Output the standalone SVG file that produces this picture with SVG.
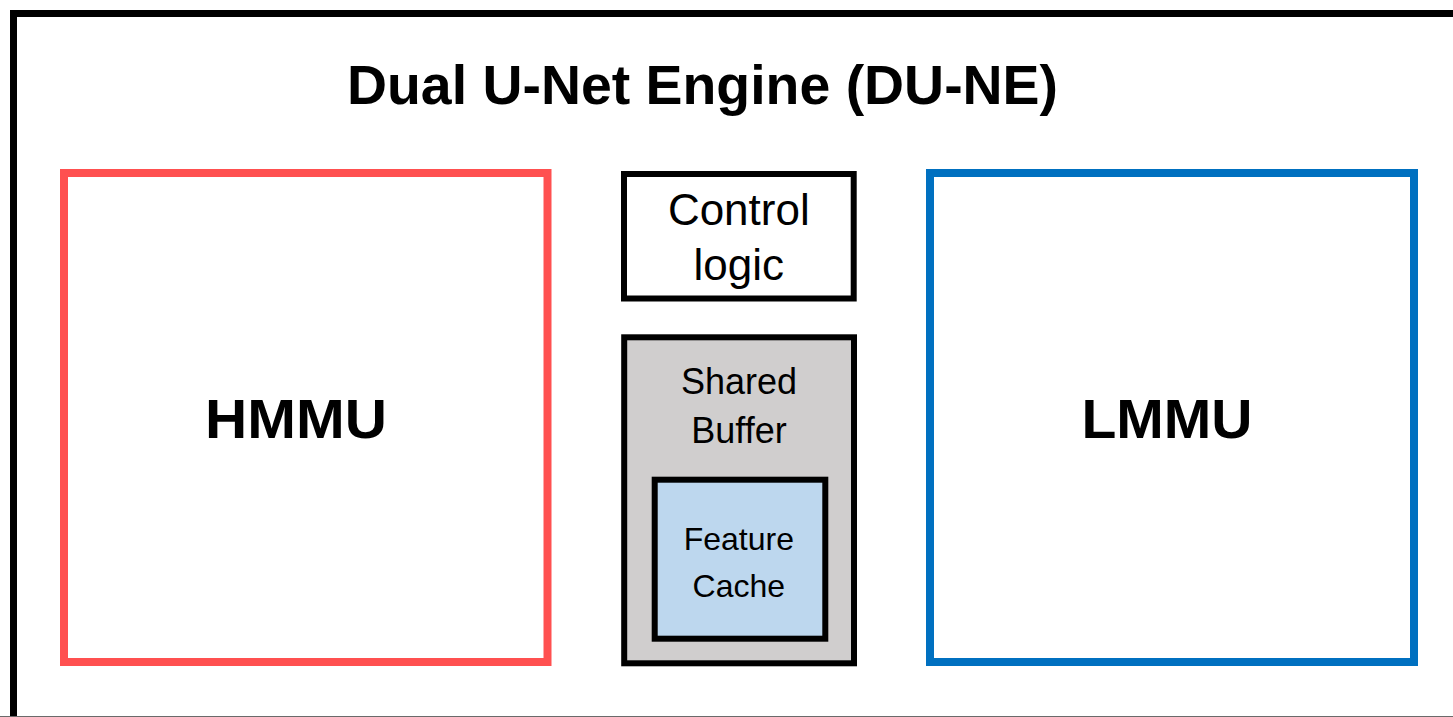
<svg xmlns="http://www.w3.org/2000/svg" width="1453" height="717" viewBox="0 0 1453 717">
  <style>
    .frame { fill: none; stroke: #000; stroke-width: 7; }
    .box { stroke: #000; stroke-width: 6; }
    .unit { fill: #fff; stroke-width: 8; }
    text { font-family: "Liberation Sans", Arial, sans-serif; fill: #000; text-anchor: middle; }
    .bold { font-weight: bold; }
  </style>
  <rect width="1453" height="717" fill="#fff"/>

  <!-- engine outline (continues past the right and bottom edges) -->
  <g id="engine">
    <path class="frame" d="M13.5 730 V13.5 H1460"/>
    <line x1="0" y1="716.5" x2="1453" y2="716.5" stroke="#6a6a6a" stroke-width="1"/>
    <text class="bold" x="702.5" y="104" font-size="56" textLength="711" lengthAdjust="spacingAndGlyphs">Dual U-Net Engine (DU-NE)</text>
  </g>

  <g id="hmmu">
    <rect class="unit" x="64" y="173" width="483.5" height="489" stroke="#ff5050"/>
    <text class="bold" x="296" y="438" font-size="55" textLength="182" lengthAdjust="spacingAndGlyphs">HMMU</text>
  </g>

  <g id="control-logic">
    <rect class="box" x="624" y="174" width="229.7" height="124.5" fill="#fff" stroke-width="5.5"/>
    <text x="738.8" y="225" font-size="44">Control</text>
    <text x="738.8" y="280" font-size="44">logic</text>
  </g>

  <g id="shared-buffer">
    <rect class="box" x="624.2" y="337.3" width="229.8" height="326" fill="#d0cece"/>
    <text x="739" y="394" font-size="36">Shared</text>
    <text x="739" y="443" font-size="36">Buffer</text>
  </g>

  <g id="feature-cache">
    <rect class="box" x="654.7" y="479.7" width="170.6" height="159" fill="#bdd7ee"/>
    <text x="738.8" y="550" font-size="32">Feature</text>
    <text x="738.8" y="596.7" font-size="32">Cache</text>
  </g>

  <g id="lmmu">
    <rect class="unit" x="930" y="173" width="484" height="489" stroke="#0070c0"/>
    <text class="bold" x="1167" y="438" font-size="55" textLength="171" lengthAdjust="spacingAndGlyphs">LMMU</text>
  </g>

  <g id="connectors"></g>
</svg>
